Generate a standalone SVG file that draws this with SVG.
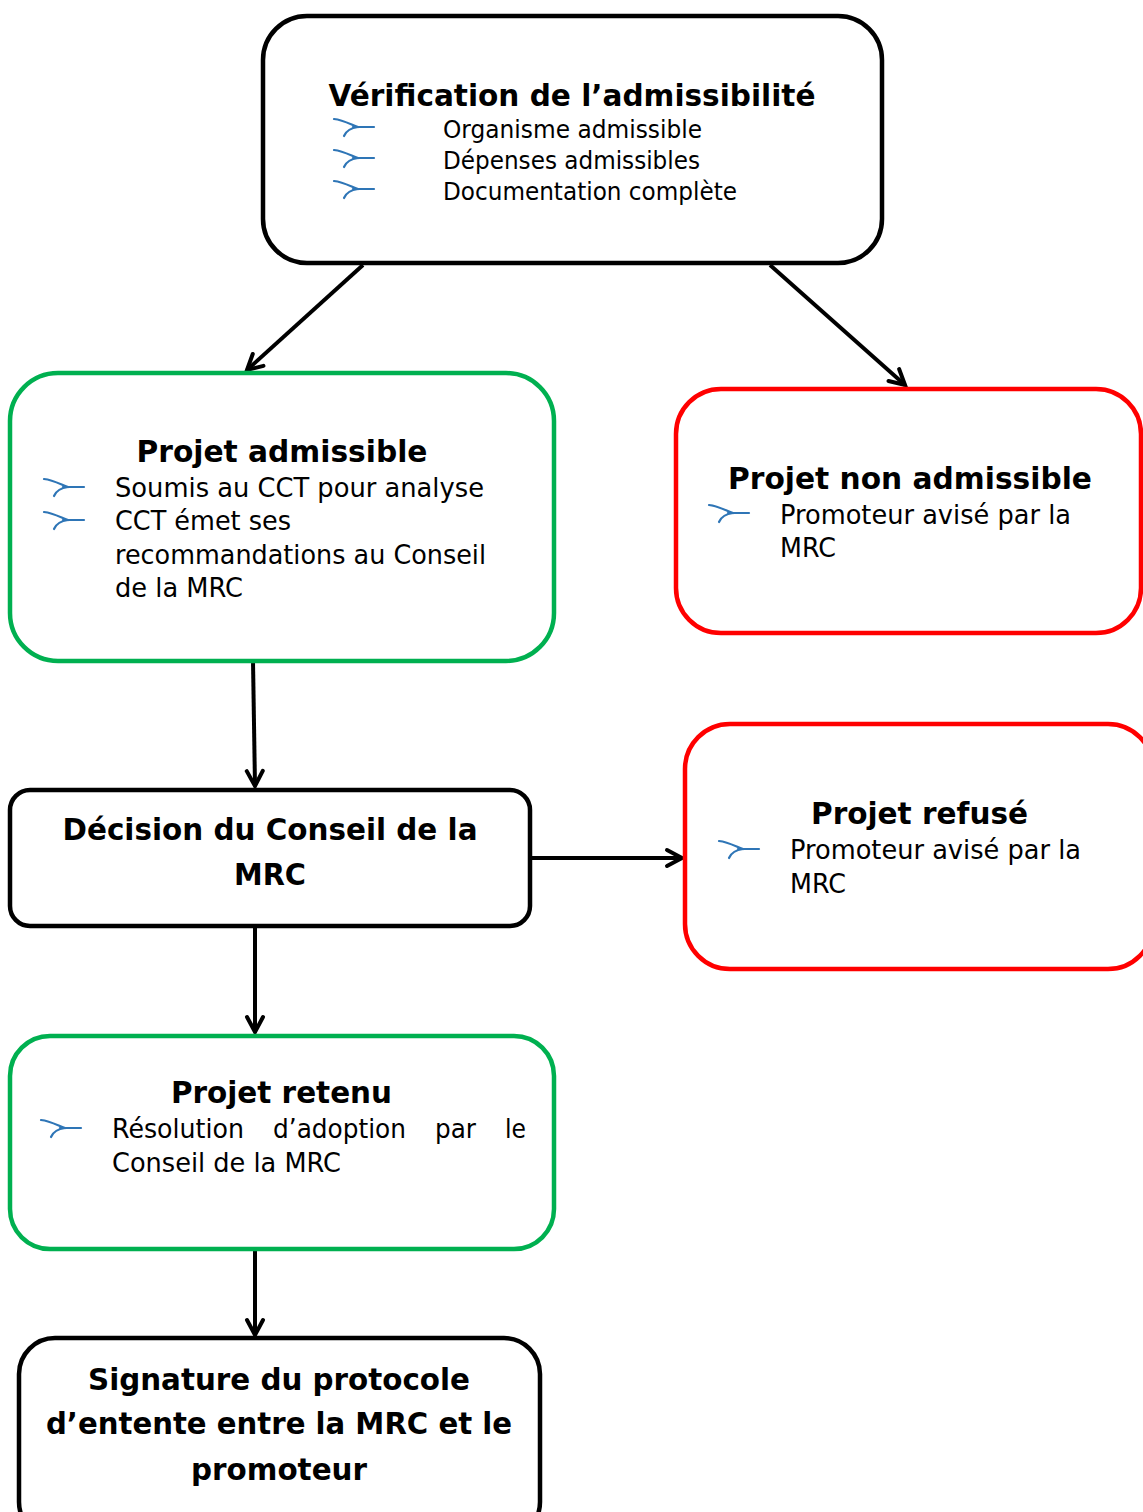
<svg xmlns="http://www.w3.org/2000/svg" width="1143" height="1512" viewBox="0 0 1143 1512">
<style>
.box{fill:#fff;stroke-width:4.5}
.blk{stroke:#000}
.grn{stroke:#00B050}
.red{stroke:#FF0000}
.t{font-family:"DejaVu Sans","Verdana",sans-serif;font-weight:bold;font-size:31px;fill:#000;text-anchor:middle}
.r{font-family:"DejaVu Sans","Verdana",sans-serif;font-size:26.5px;fill:#000}
.r1{font-family:"DejaVu Sans","Verdana",sans-serif;font-size:24.2px;fill:#000}
.con{stroke:#000;stroke-width:4;fill:none;marker-end:url(#arr)}
.bul{stroke:#2E75B6;stroke-width:2.2;fill:none;stroke-linecap:round}
</style>
<defs>
<marker id="arr" markerUnits="userSpaceOnUse" markerWidth="40" markerHeight="40" viewBox="-20 -20 40 40" refX="0" refY="0" orient="auto">
<path d="M-15,-8 L0,0 L-15,8" stroke="#000" stroke-width="4" fill="none" stroke-linecap="round" stroke-linejoin="miter"/>
</marker>
<g id="bul">
<path class="bul" d="M0,-8 C9,-7 16,-3 24,0"/>
<path class="bul" d="M10,9 C12,4 17,1 24,0"/>
<path class="bul" d="M19,0 H40"/>
</g>
</defs>

<g id="connectors">
<line class="con" x1="363" y1="265" x2="247" y2="370"/>
<line class="con" x1="770" y1="265" x2="905" y2="385"/>
<line class="con" x1="253" y1="661" x2="255" y2="786"/>
<line class="con" x1="530" y1="858" x2="682" y2="858"/>
<line class="con" x1="255" y1="926" x2="255" y2="1032"/>
<line class="con" x1="255" y1="1249" x2="255" y2="1335"/>
</g>

<g id="verification">
<rect class="box blk" x="263" y="16" width="619" height="247" rx="44"/>
<text class="t" x="572" y="106" textLength="487" lengthAdjust="spacingAndGlyphs">Vérification de l’admissibilité</text>
<use href="#bul" x="334" y="127"/>
<use href="#bul" x="334" y="158"/>
<use href="#bul" x="334" y="189"/>
<text class="r1" x="443" y="138" textLength="259" lengthAdjust="spacingAndGlyphs">Organisme admissible</text>
<text class="r1" x="443" y="169" textLength="257" lengthAdjust="spacingAndGlyphs">Dépenses admissibles</text>
<text class="r1" x="443" y="200" textLength="294" lengthAdjust="spacingAndGlyphs">Documentation complète</text>
</g>

<g id="admissible">
<rect class="box grn" x="10" y="373" width="544" height="288" rx="48"/>
<text class="t" x="282" y="462" textLength="291" lengthAdjust="spacingAndGlyphs">Projet admissible</text>
<use href="#bul" x="44" y="487"/>
<use href="#bul" x="44" y="520"/>
<text class="r" x="115" y="497" textLength="369" lengthAdjust="spacingAndGlyphs">Soumis au CCT pour analyse</text>
<text class="r" x="115" y="530" textLength="176" lengthAdjust="spacingAndGlyphs">CCT émet ses</text>
<text class="r" x="115" y="564" textLength="371" lengthAdjust="spacingAndGlyphs">recommandations au Conseil</text>
<text class="r" x="115" y="597" textLength="128" lengthAdjust="spacingAndGlyphs">de la MRC</text>
</g>

<g id="non-admissible">
<rect class="box red" x="676" y="389" width="465" height="244" rx="45"/>
<text class="t" x="910" y="489" textLength="364" lengthAdjust="spacingAndGlyphs">Projet non admissible</text>
<use href="#bul" x="709" y="513"/>
<text class="r" x="780" y="524" textLength="291" lengthAdjust="spacingAndGlyphs">Promoteur avisé par la</text>
<text class="r" x="780" y="557" textLength="56" lengthAdjust="spacingAndGlyphs">MRC</text>
</g>

<g id="decision">
<rect class="box blk" x="10" y="790" width="520" height="136" rx="20"/>
<text class="t" x="270" y="840" textLength="415" lengthAdjust="spacingAndGlyphs">Décision du Conseil de la</text>
<text class="t" x="270" y="885" textLength="72" lengthAdjust="spacingAndGlyphs">MRC</text>
</g>

<g id="refuse">
<rect class="box red" x="685" y="724" width="468" height="245" rx="45"/>
<text class="t" x="919.5" y="824" textLength="217" lengthAdjust="spacingAndGlyphs">Projet refusé</text>
<use href="#bul" x="719" y="849"/>
<text class="r" x="790" y="859" textLength="291" lengthAdjust="spacingAndGlyphs">Promoteur avisé par la</text>
<text class="r" x="790" y="893" textLength="56" lengthAdjust="spacingAndGlyphs">MRC</text>
</g>

<g id="retenu">
<rect class="box grn" x="10" y="1036" width="544" height="213" rx="40"/>
<text class="t" x="281.5" y="1103" textLength="221" lengthAdjust="spacingAndGlyphs">Projet retenu</text>
<use href="#bul" x="41" y="1128"/>
<text class="r" y="1138"><tspan x="112" textLength="132" lengthAdjust="spacingAndGlyphs">Résolution</tspan><tspan x="273" textLength="133" lengthAdjust="spacingAndGlyphs">d’adoption</tspan><tspan x="435" textLength="41" lengthAdjust="spacingAndGlyphs">par</tspan><tspan x="505" textLength="21" lengthAdjust="spacingAndGlyphs">le</tspan></text>
<text class="r" x="112" y="1172" textLength="229" lengthAdjust="spacingAndGlyphs">Conseil de la MRC</text>
</g>

<g id="signature">
<rect class="box blk" x="19" y="1338" width="521" height="200" rx="36"/>
<text class="t" x="279" y="1390" textLength="382" lengthAdjust="spacingAndGlyphs">Signature du protocole</text>
<text class="t" x="279" y="1434" textLength="466" lengthAdjust="spacingAndGlyphs">d’entente entre la MRC et le</text>
<text class="t" x="279" y="1480" textLength="176" lengthAdjust="spacingAndGlyphs">promoteur</text>
</g>
</svg>
